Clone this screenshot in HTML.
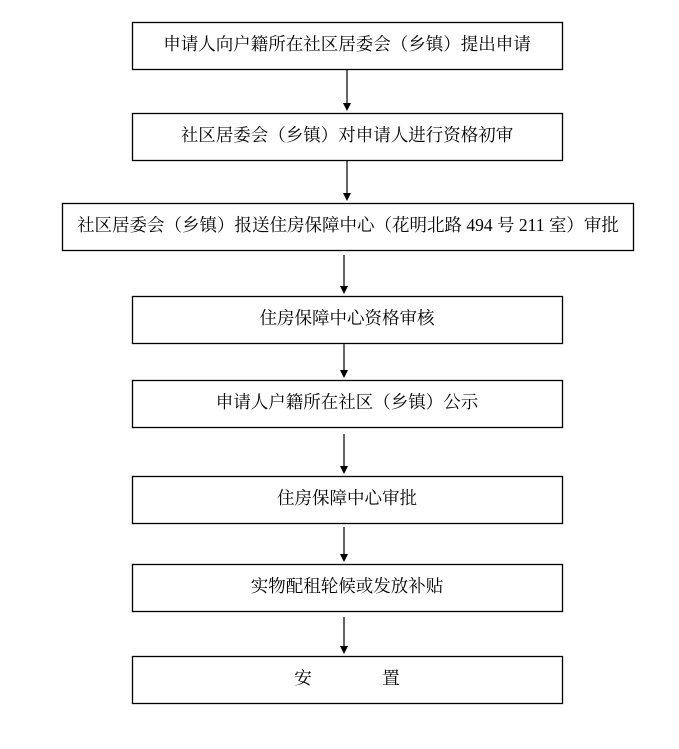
<!DOCTYPE html>
<html><head><meta charset="utf-8"><style>
body{margin:0;background:#fff;width:679px;height:744px;overflow:hidden}
svg text{font-family:"Liberation Serif","Noto Serif CJK SC",serif;font-size:17.5px;fill:#000}
</style></head><body>
<svg width="679" height="744" viewBox="0 0 679 744">
<g fill="none" stroke="#000" stroke-width="1.3">
<rect x="132.5" y="22.5" width="430" height="47"/>
<rect x="132.5" y="113.5" width="430" height="47"/>
<rect x="62.5" y="203.5" width="571" height="47"/>
<rect x="132.5" y="296.5" width="430" height="47"/>
<rect x="132.5" y="380.5" width="430" height="47"/>
<rect x="132.5" y="476.5" width="430" height="47"/>
<rect x="132.5" y="564.5" width="430" height="47"/>
<rect x="132.5" y="656.5" width="430" height="47"/>
</g>
<g stroke="#000" stroke-width="1.2">
<line x1="347" y1="70" x2="347" y2="104"/>
<line x1="347" y1="161" x2="347" y2="194"/>
<line x1="344" y1="255" x2="344" y2="287"/>
<line x1="344" y1="344" x2="344" y2="371"/>
<line x1="344" y1="434" x2="344" y2="467"/>
<line x1="344" y1="527" x2="344" y2="555"/>
<line x1="344" y1="617" x2="344" y2="647"/>
</g>
<g fill="#000">
<path d="M343,103 L351,103 L347,111 Z"/>
<path d="M343,193 L351,193 L347,201 Z"/>
<path d="M340,286 L348,286 L344,294 Z"/>
<path d="M340,370 L348,370 L344,378 Z"/>
<path d="M340,466 L348,466 L344,474 Z"/>
<path d="M340,554 L348,554 L344,562 Z"/>
<path d="M340,646 L348,646 L344,654 Z"/>
</g>
<g text-anchor="middle">
<text x="347" y="50">申请人向户籍所在社区居委会（乡镇）提出申请</text>
<text x="347" y="141">社区居委会（乡镇）对申请人进行资格初审</text>
<text x="348" y="231">社区居委会（乡镇）报送住房保障中心（花明北路 494 号 211 室）审批</text>
<text x="347" y="324">住房保障中心资格审核</text>
<text x="347" y="408">申请人户籍所在社区（乡镇）公示</text>
<text x="347" y="504">住房保障中心审批</text>
<text x="347" y="592">实物配租轮候或发放补贴</text>
<text x="303" y="684">安</text>
<text x="391" y="684">置</text>
</g>
</svg>
</body></html>
